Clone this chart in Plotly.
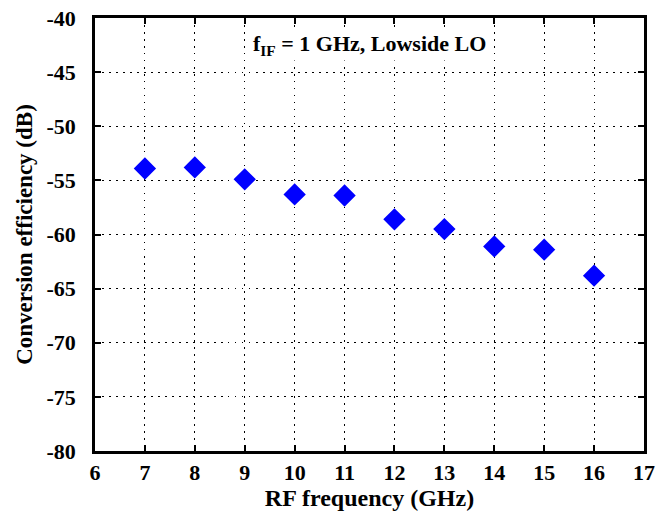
import plotly.graph_objects as go

# RF frequency (GHz) and measured conversion efficiency (dB)
rf_freq = [7, 8, 9, 10, 11, 12, 13, 14, 15, 16]
conv_eff = [-53.9, -53.8, -54.9, -56.3, -56.4, -58.6, -59.5, -61.1, -61.4, -63.8]

x_ticks = list(range(6, 18))
y_ticks = list(range(-80, -35, 5))

FONT = "Liberation Serif"

fig = go.Figure()
fig.add_trace(go.Scatter(
    x=rf_freq, y=conv_eff, mode="markers",
    marker=dict(symbol="diamond", size=15, color="#0000ff",
                line=dict(color="#0000ff", width=2)),
    showlegend=False,
))

axis_common = dict(
    showline=True, linecolor="black", linewidth=2.5, mirror="ticks",
    ticks="inside", ticklen=6, tickwidth=1.5, tickcolor="black",
    showgrid=True, gridcolor="black", griddash="1.5px,5.5px", gridwidth=1.2,
    zeroline=False, automargin=False,
    tickfont=dict(family=FONT, size=22, color="black", weight="bold"),
)

fig.update_xaxes(
    range=[6, 17], tickvals=x_ticks, ticktext=[str(v) for v in x_ticks],
    ticklabelstandoff=0,
    title=dict(text="<b>RF frequency (GHz)</b>", standoff=2,
               font=dict(family=FONT, size=24, color="black")),
    **axis_common,
)
fig.update_yaxes(
    range=[-80, -40], tickvals=y_ticks, ticktext=[str(v) for v in y_ticks],
    ticklabelstandoff=12,
    title=dict(text="<b>Conversion efficiency (dB)</b>", standoff=8,
               font=dict(family=FONT, size=23, color="black")),
    **axis_common,
)

fig.add_annotation(
    x=0.5, y=-42.5, xref="paper", yref="y",
    text="<b>f<sub>IF</sub> = 1 GHz, Lowside LO</b>",
    showarrow=False, bgcolor="white",
    font=dict(family=FONT, size=22, color="black"),
)

fig.update_layout(
    width=657, height=515,
    margin=dict(l=95, r=13, t=18, b=64),
    paper_bgcolor="white", plot_bgcolor="white",
)

fig.write_html("out.html")
